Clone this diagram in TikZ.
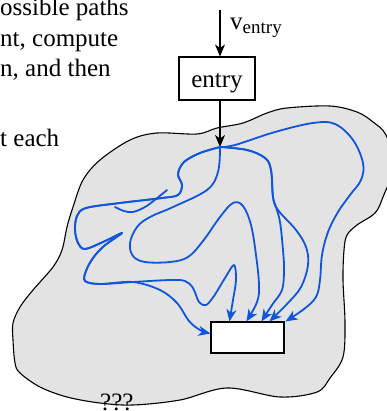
\documentclass[tikz,border=0pt]{standalone}
\usepackage{fontspec}
\setmainfont{Liberation Serif}
\usetikzlibrary{arrows.meta}
\definecolor{pathblue}{RGB}{17,85,221}
\definecolor{blobgray}{RGB}{227,227,227}
\begin{document}
\begin{tikzpicture}[x=1pt,y=-1pt,
  txt/.style={inner sep=0pt, anchor=base west, font=\fontsize{25}{30}\selectfont},
  bluepath/.style={pathblue, line width=1.8pt, line cap=round, line join=round},
  bluearrow/.style={bluepath, -{Stealth[length=12pt,width=10pt,inset=3.5pt]}},
  blkarrow/.style={black, line width=1.1pt, -{Stealth[length=12pt,width=10pt,inset=3.5pt]}},
  boxstyle/.style={draw, line width=1.1pt, inner sep=0pt}
]
\useasboundingbox (0,0) rectangle (386,411);

% text at top left (cut by the picture edge)
\node[txt] (l1) at (0,16) {ossible paths};
\node[txt] (l2) at (0,46.5) {nt, compute};
\node[txt] (l3) at (0,77) {n, and then};
\node[txt] (l4) at (0,147) {t each};

% blob
\draw[fill=blobgray, line width=1.1pt] plot[smooth cycle, tension=0.55] coordinates {
(130,140) (157,133) (197,134) (217,128) (243,123) (267,113) (287,108) (330,106)
(357,112) (373,122) (386,135) (394,165) (383,197) (375,213) (357,225) (347,235)
(344,250) (343,280) (345,323) (343,357) (330,378) (317,392) (280,397) (227,388)
(180,400) (133,405) (100,403) (67,397) (40,387) (20,373) (15,363) (13,340)
(13,323) (20,307) (33,290) (53,267) (62,250) (67,227) (73,207) (83,180) (100,160)};

% entry box and its arrows
\node[boxstyle, minimum width=76pt, text height=22pt, text depth=3pt, inner ysep=9pt,
      font=\fontsize{25}{30}\selectfont] (entry) at (217,78.5) {entry};
\coordinate (top) at (220,10);
\coordinate (S) at (220,147);
\node[txt] (vlab) at (230,30) {v\raisebox{-4pt}{\fontsize{19}{20}\selectfont entry}};
\draw[blkarrow] (top) -- (top |- entry.north);
\draw[blkarrow] (S |- entry.south) -- (S);

% target box
\node[boxstyle, fill=white, minimum width=73pt, minimum height=31pt] (tgt) at (247.5,337.5) {};
\coordinate (t1) at ([yshift=4pt]tgt.west);
\coordinate (t2) at ([xshift=19pt]tgt.north west);
\coordinate (t3) at ([xshift=36pt]tgt.north west);
\coordinate (t4) at ([xshift=51pt]tgt.north west);
\coordinate (t5) at ([xshift=59pt]tgt.north west);
\coordinate (t6) at ([xshift=1pt]tgt.north east);

% blue paths
% A: big right arc
\draw[bluearrow] plot[smooth, tension=0.6] coordinates {(S) (235,145) (275,132) (313,123)
 (335,124) (353,140) (363,163) (361,180) (350,195) (338,212) (328,232) (322,255)
 (320,280) (316,297) (304,309) (t6)};
% B1
\draw[bluearrow] plot[smooth, tension=0.6] coordinates {(S) (247,150) (265,158) (271,170)
 (273,197) (276,207) (280,222) (283,250) (284,270) (282,290) (272,305) (t4)};
% B2
\draw[bluearrow] plot[smooth, tension=0.6] coordinates {(S) (247,150) (265,158) (271,170)
 (273,197) (278,210) (296,230) (306,247) (308,265) (301,287) (287,304) (t5)};
% C: arch
\draw[bluearrow] plot[smooth, tension=0.6] coordinates {(S) (218,172) (207,190) (173,207)
 (150,217) (137,227) (130,243) (133,256) (145,262) (170,262) (188,257) (203,241)
 (220,217) (233,203) (243,206) (251,225) (256,255) (259,285) (257,302) (t3)};
% D/E: left loop and zig-zag
\draw[bluearrow] plot[smooth, tension=0.55] coordinates {(S) (200,153) (184,162) (178,174)
 (182,185) (178,195) (162,198) (120,203) (86,208) (77,216) (75,230) (78,243) (85,249)
 (103,242) (122,233) (104,246) (93,258) (86,271) (85,281) (100,284) (133,282)
 (170,280) (185,281) (193,288) (199,302) (206,305) (214,296) (225,278) (234,265)
 (236,280) (233,300) (t2)};
% F: branch to the left side of the box
\draw[bluearrow] plot[smooth, tension=0.55] coordinates {(S) (200,153) (184,162) (178,174)
 (182,185) (178,195) (162,198) (120,203) (86,208) (77,216) (75,230) (78,243) (85,249)
 (103,242) (122,233) (104,246) (93,258) (86,271) (85,281) (100,284) (133,282)
 (160,290) (177,303) (189,321) (200,330) (t1)};
% G: small loose hook
\draw[bluepath] plot[smooth, tension=0.6] coordinates {(115,207) (124,211) (133,212)
 (145,207) (156,199) (167,190)};

% question marks at the bottom
\node[txt] (qq) at (100,410) {???};
\end{tikzpicture}
\end{document}
